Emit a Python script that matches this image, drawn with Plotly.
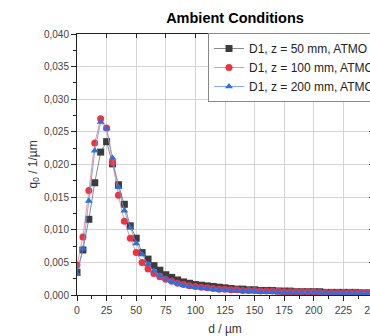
import plotly.graph_objects as go

d_um = list(range(0, 255, 5))

q0_50mm = [0.0035, 0.0069, 0.0116, 0.0172, 0.0219, 0.0235, 0.0201, 0.0169, 0.0139, 0.0106,
           0.0087, 0.0065, 0.0055, 0.0045, 0.0038, 0.0031, 0.0027, 0.0023, 0.0020, 0.0018,
           0.0016, 0.0015, 0.0014, 0.0013, 0.0012, 0.0011, 0.0010, 0.0009, 0.0009, 0.0008,
           0.0008, 0.0007, 0.0007, 0.0007, 0.0006, 0.0006, 0.0006, 0.0005, 0.0005, 0.0005,
           0.0005, 0.0005, 0.0004, 0.0004, 0.0004, 0.0004, 0.0004, 0.0004, 0.0003, 0.0003,
           0.0003]
q0_100mm = [0.0046, 0.0089, 0.0160, 0.0233, 0.0270, 0.0256, 0.0203, 0.0153, 0.0113, 0.0087,
            0.0065, 0.0050, 0.0040, 0.0033, 0.0028, 0.0024, 0.0021, 0.0018, 0.0016, 0.0014,
            0.0013, 0.0012, 0.0011, 0.0010, 0.0009, 0.0009, 0.0008, 0.0008, 0.0007, 0.0007,
            0.0007, 0.0006, 0.0006, 0.0006, 0.0006, 0.0005, 0.0005, 0.0005, 0.0005, 0.0005,
            0.0005, 0.0004, 0.0004, 0.0004, 0.0004, 0.0004, 0.0004, 0.0004, 0.0004, 0.0004,
            0.0004]
q0_200mm = [0.0032, 0.0071, 0.0144, 0.0221, 0.0265, 0.0255, 0.0210, 0.0165, 0.0129, 0.0103,
            0.0079, 0.0062, 0.0047, 0.0037, 0.0030, 0.0025, 0.0021, 0.0018, 0.0015, 0.0013,
            0.0012, 0.0011, 0.0010, 0.0009, 0.0008, 0.0008, 0.0007, 0.0007, 0.0006, 0.0006,
            0.0006, 0.0005, 0.0005, 0.0005, 0.0005, 0.0004, 0.0004, 0.0004, 0.0004, 0.0004,
            0.0004, 0.0004, 0.0003, 0.0003, 0.0003, 0.0003, 0.0003, 0.0003, 0.0003, 0.0003,
            0.0003]

series = [
    ("D1, z = 50 mm, ATMO", q0_50mm, "square", "#3c3c3c", "rgba(90,90,90,0.7)"),
    ("D1, z = 100 mm, ATMO", q0_100mm, "circle", "#ee3340", "rgba(240,120,130,0.8)"),
    ("D1, z = 200 mm, ATMO", q0_200mm, "triangle-up", "#2b6fe0", "rgba(100,150,235,0.8)"),
]

FONT = "Liberation Sans, Arial, sans-serif"
W, H = 410, 336
L, R_EDGE, T, B_EDGE = 77, 373, 34, 295

fig = go.Figure()
for name, vals, sym, mcol, lcol in series:
    fig.add_trace(go.Scatter(
        x=d_um, y=vals, name=name, mode="lines+markers",
        line=dict(color=lcol, width=1),
        marker=dict(symbol=sym, size=7, color=mcol, line=dict(width=0)),
    ))

# invisible trace for mirrored (inside-tick) top/right axes
fig.add_trace(go.Scatter(x=[0], y=[0], xaxis="x2", yaxis="y2", showlegend=False,
                         mode="markers", marker=dict(opacity=0), hoverinfo="skip"))

fig.update_layout(
    width=W, height=H,
    margin=dict(l=L, r=W - R_EDGE, t=T, b=H - B_EDGE, pad=0, autoexpand=False),
    paper_bgcolor="white", plot_bgcolor="white",
    font=dict(family=FONT, color="#333333"),
    showlegend=True,
    title=dict(text="<b>Ambient Conditions</b>", xref="paper", x=(235 - L) / (R_EDGE - L),
               xanchor="center", yref="container", y=1 - 18 / H, yanchor="middle",
               font=dict(size=14.5, color="#000000", family=FONT)),
    legend=dict(x=(208 - L) / (R_EDGE - L), y=1 + 1 / (B_EDGE - T), xanchor="left", yanchor="top",
                bgcolor="white", bordercolor="#888888", borderwidth=1,
                font=dict(size=12, color="#222222", family=FONT),
                tracegroupgap=0, itemwidth=30),
    xaxis=dict(range=[0, 250], tickvals=list(range(0, 251, 25)), automargin=False,
               showgrid=True, gridcolor="#d4d4d4", gridwidth=1,
               showline=True, linecolor="#222222", linewidth=1,
               ticks="outside", ticklen=5, tickcolor="#222222",
               minor=dict(ticks="outside", ticklen=3, dtick=12.5, tick0=0, tickcolor="#222222", showgrid=False),
               tickfont=dict(size=10.5, color="#444444"),
               title=dict(text="d / µm", font=dict(size=12, color="#333333"), standoff=12),
               zeroline=False),
    yaxis=dict(range=[0, 0.040], tickvals=[i * 0.005 for i in range(9)], automargin=False,
               ticktext=[f"{i*0.005:.3f}".replace(".", ",") for i in range(9)],
               showgrid=True, gridcolor="#d4d4d4", gridwidth=1,
               showline=True, linecolor="#222222", linewidth=1,
               ticks="outside", ticklen=5, tickcolor="#222222",
               minor=dict(ticks="outside", ticklen=3, dtick=0.0025, tick0=0, tickcolor="#222222", showgrid=False),
               tickfont=dict(size=10, color="#444444"),
               zeroline=False),
    xaxis2=dict(overlaying="x", side="top", range=[0, 250], tickvals=list(range(0, 251, 25)),
                showticklabels=False, showgrid=False, showline=True, linecolor="#222222", linewidth=1,
                ticks="inside", ticklen=4, tickcolor="#222222", zeroline=False, automargin=False),
    yaxis2=dict(overlaying="y", side="right", range=[0, 0.040], tickvals=[i * 0.005 for i in range(9)],
                showticklabels=False, showgrid=False, showline=True, linecolor="#222222", linewidth=1,
                ticks="inside", ticklen=4, tickcolor="#222222", zeroline=False, automargin=False),
    annotations=[dict(text="q<sub>0</sub> / 1/µm", textangle=-90, xref="paper", yref="paper",
                      x=(33 - L) / (R_EDGE - L), y=0.5, xanchor="center", yanchor="middle",
                      showarrow=False, font=dict(size=12, color="#333333", family=FONT))],
)

fig.write_html("out.html")
